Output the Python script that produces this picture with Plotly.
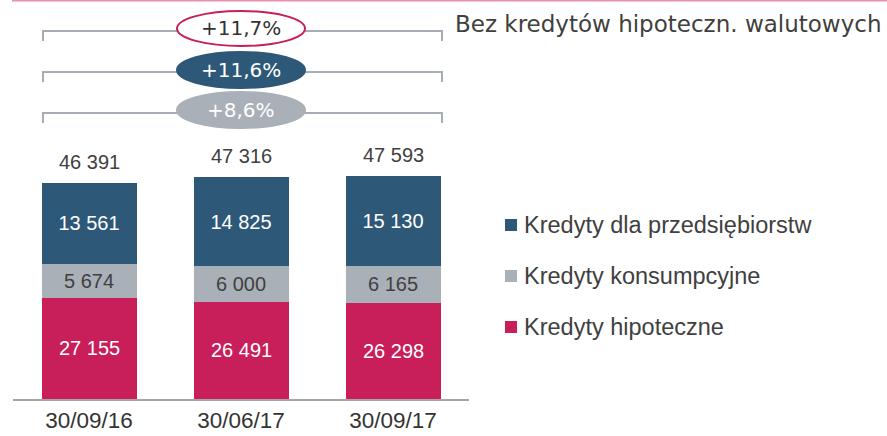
import plotly.graph_objects as go

# ---- data ----
categories = ["30/09/16", "30/06/17", "30/09/17"]
mortgage = [27155, 26491, 26298]
consumer = [5674, 6000, 6165]
corporate = [13561, 14825, 15130]
totals = [46391, 47316, 47593]
series_names = ["Kredyty hipoteczne", "Kredyty konsumpcyjne", "Kredyty dla przedsiębiorstw"]
growth_labels = ["+11,7%", "+11,6%", "+8,6%"]
note_text = "Bez kredytów hipoteczn. walutowych"

# ---- style ----
W, H = 887, 436
MB = 37
PH = H - MB  # plot height in px
Y_MIN, Y_MAX = 10200, 77030
C_CORP = "#2D5877"
C_CONS = "#A9B0B8"
C_MORT = "#C81E5A"
C_TEXT = "#404040"
ARIAL = "Liberation Sans, Arial, sans-serif"
GEO = "DejaVu Sans, sans-serif"


def py(p):
    """pixel y (from top) -> paper y"""
    return 1 - p / PH


def fmt(v):
    return f"{v:,}".replace(",", " ")


fig = go.Figure()
for name, vals, col, tcol, tpos in [
    (series_names[0], mortgage, C_MORT, "white", "none"),
    (series_names[1], consumer, C_CONS, C_TEXT, "inside"),
    (series_names[2], corporate, C_CORP, "white", "inside"),
]:
    fig.add_trace(go.Bar(
        x=categories, y=vals, name=name, showlegend=False,
        marker=dict(color=col, line=dict(width=0)),
        width=0.625,
        texttemplate="%{y:,}", textposition=tpos, insidetextanchor="middle",
        textfont=dict(family=ARIAL, size=20, color=tcol),
        constraintext="none", hoverinfo="skip",
    ))

# mortgage labels centred in the visible part of the bottom segment
for cat, v in zip(categories, mortgage):
    fig.add_annotation(x=cat, y=(Y_MIN + v) / 2, xref="x", yref="y", text=fmt(v),
                       showarrow=False, xanchor="center", yanchor="middle",
                       font=dict(family=ARIAL, size=20, color="white"))

# totals above bars
for cat, tot in zip(categories, totals):
    fig.add_annotation(x=cat, y=tot, xref="x", yref="y", text=fmt(tot),
                       showarrow=False, xanchor="center", yanchor="bottom", yshift=8,
                       font=dict(family=ARIAL, size=20, color=C_TEXT))

shapes = []
# top pink line
shapes.append(dict(type="line", xref="paper", yref="paper", x0=12 / W, x1=1, y0=py(0.5), y1=py(0.5),
                   line=dict(color="#E891AE", width=2)))

# brackets with ellipses
bracket_y = [31, 72, 113]
ell = [(11, 46), (52, 88), (92, 128)]
ell_fill = ["white", C_CORP, C_CONS]
ell_line = [C_MORT, C_CORP, C_CONS]
ell_text_col = ["#333333", "white", "white"]
for i in range(3):
    by = bracket_y[i]
    shapes.append(dict(type="path", xref="paper", yref="paper",
                       path=f"M {43/W},{py(by+10)} L {43/W},{py(by)} L {442/W},{py(by)} L {442/W},{py(by+10)}",
                       line=dict(color="#A6ADB4", width=2)))
    y0, y1 = ell[i]
    shapes.append(dict(type="circle", xref="paper", yref="paper",
                       x0=177 / W, x1=305 / W, y0=py(y1), y1=py(y0),
                       fillcolor=ell_fill[i], line=dict(color=ell_line[i], width=2)))
    fig.add_annotation(x=241 / W, y=py((y0 + y1) / 2), xref="paper", yref="paper",
                       xanchor="center", yanchor="middle",
                       text=growth_labels[i], showarrow=False,
                       font=dict(family=GEO, size=20, color=ell_text_col[i]))

fig.add_annotation(x=453 / W, y=py(24), xref="paper", yref="paper", xanchor="left", yanchor="middle",
                   text=note_text, showarrow=False,
                   font=dict(family=GEO, size=23, color=C_TEXT))

# legend (corporate on top)
leg_rows = [(series_names[2], C_CORP, 225), (series_names[1], C_CONS, 276), (series_names[0], C_MORT, 327)]
for name, col, cy in leg_rows:
    shapes.append(dict(type="rect", xref="paper", yref="paper",
                       x0=505 / W, x1=517 / W, y0=py(cy + 6), y1=py(cy - 6),
                       fillcolor=col, line=dict(width=0)))
    fig.add_annotation(x=522 / W, y=py(cy), xref="paper", yref="paper", xanchor="left", yanchor="middle",
                       text=name, showarrow=False,
                       font=dict(family=ARIAL, size=23.5, color=C_TEXT))

fig.update_layout(
    width=W, height=H,
    margin=dict(l=0, r=0, t=0, b=MB, pad=0, autoexpand=False),
    paper_bgcolor="white", plot_bgcolor="rgba(0,0,0,0)",
    barmode="stack", separators=", ",
    shapes=shapes,
    showlegend=False,
    xaxis=dict(domain=[13 / W, 469 / W], range=[-0.5, 2.5], showline=True,
               linecolor="#A6A6A6", linewidth=2, ticks="", showgrid=False,
               tickfont=dict(family=ARIAL, size=22.5, color="#333333"),
               ticklabelstandoff=0, automargin=False, fixedrange=True),
    yaxis=dict(range=[Y_MIN, Y_MAX], visible=False, showgrid=False, zeroline=False,
               automargin=False, fixedrange=True),
)

fig.write_html("out.html", config={"displayModeBar": False, "staticPlot": True},
               post_script="document.body.style.margin='0px';")
